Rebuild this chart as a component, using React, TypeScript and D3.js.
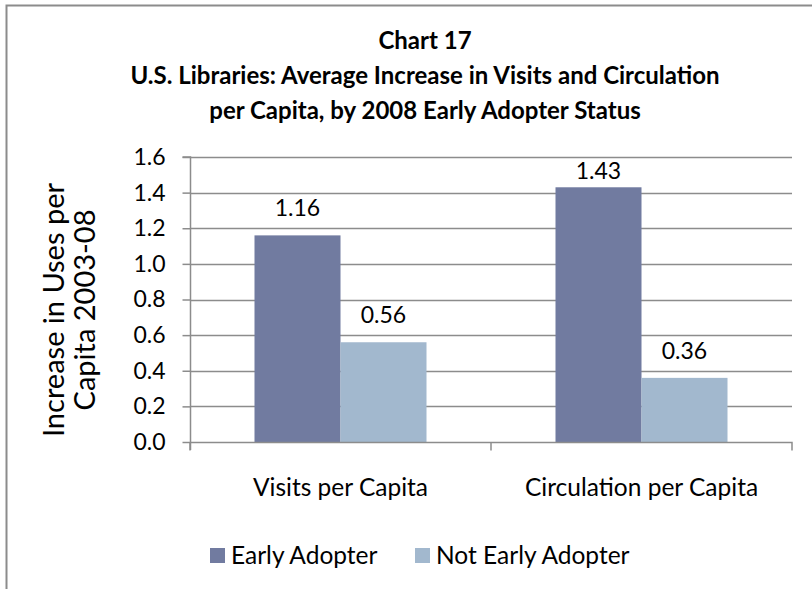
import React, { useRef, useEffect } from 'react'
import * as d3 from 'd3'

const categories = ['Visits per Capita', 'Circulation per Capita']
const seriesNames = ['Early Adopter', 'Not Early Adopter']
const earlyAdopter = [1.16, 1.43]
const notEarlyAdopter = [0.56, 0.36]
const yTicks = [0, 0.2, 0.4, 0.6, 0.8, 1.0, 1.2, 1.4, 1.6]
const titleLines = [
  'Chart 17',
  'U.S. Libraries: Average Increase in Visits and Circulation',
  'per Capita, by 2008 Early Adopter Status',
]
const yTitleLines = ['Increase in Uses per', 'Capita 2003-08']

const colors = ['#717ba0', '#a2b8ce']
const FONT = 'Lato, "Open Sans", sans-serif'

export default function App() {
  const svgRef = useRef<SVGSVGElement>(null)

  useEffect(() => {
    const w = 812
    const h = 589
    const m = { left: 190, right: 20, top: 157, bottom: 147 }
    const svg = d3.select(svgRef.current)
    svg.selectAll('*').remove()
    svg.attr('width', w).attr('height', h)

    svg.append('rect').attr('width', w).attr('height', h).attr('fill', '#fff')
    // chart border (right and bottom edges fall outside the picture)
    svg.append('path')
      .attr('d', `M6.5,${h + 5} V5.5 H${w + 5}`)
      .attr('fill', 'none')
      .attr('stroke', '#8c8c8c')
      .attr('stroke-width', 2)

    const x0 = d3.scaleBand().domain(categories).range([m.left, w - m.right]).paddingInner(0).paddingOuter(0)
    const y = d3.scaleLinear().domain([0, 1.6]).range([h - m.bottom, m.top])
    const bw = x0.bandwidth() / (2 + 1.5)
    const x1 = d3.scaleBand().domain(seriesNames).range([bw * 0.75, bw * 0.75 + bw * 2])

    // title
    svg.append('g').selectAll('text').data(titleLines).join('text')
      .attr('x', 425)
      .attr('y', (d, i) => 49 + i * 35)
      .attr('text-anchor', 'middle')
      .style('font-family', FONT)
      .style('font-weight', 'bold')
      .style('font-size', '24px')
      .text(d => d)

    // gridlines
    svg.append('g').selectAll('line').data(yTicks.slice(1)).join('line')
      .attr('x1', m.left).attr('x2', w - m.right)
      .attr('y1', d => Math.round(y(d)) + 0.5).attr('y2', d => Math.round(y(d)) + 0.5)
      .attr('stroke', '#8c8c8c').attr('stroke-width', 1.5)

    // y axis
    const yAxis = d3.axisLeft(y).tickValues(yTicks).tickFormat(d3.format('.1f')).tickSize(8).tickPadding(17)
    const gy = svg.append('g').attr('transform', `translate(${m.left + 0.5},0)`).call(yAxis)
    gy.selectAll('line,path').attr('stroke', '#8c8c8c').attr('stroke-width', 1.5)
    gy.select('.domain').attr('d', `M-8,${y(1.6)}H0V${y(0) + 8}`)
    gy.selectAll('text').style('font-family', FONT).style('font-size', '23px').attr('fill', '#000')

    // bars
    const rows = categories.map((c, i) => ({ c, vals: [earlyAdopter[i], notEarlyAdopter[i]] }))
    const groups = svg.append('g').selectAll('g').data(rows).join('g')
      .attr('transform', d => `translate(${x0(d.c)},0)`)
    groups.selectAll('rect').data(d => d.vals.map((v, j) => ({ v, s: seriesNames[j], j }))).join('rect')
      .attr('x', d => x1(d.s)!)
      .attr('width', x1.bandwidth())
      .attr('y', d => y(d.v))
      .attr('height', d => y(0) - y(d.v))
      .attr('fill', d => colors[d.j])
    // labels sit above the bar, but are kept inside the plot area
    groups.selectAll('text').data(d => d.vals.map((v, j) => ({ v, s: seriesNames[j] }))).join('text')
      .attr('x', d => x1(d.s)! + x1.bandwidth() / 2)
      .attr('y', d => Math.max(y(d.v) - 19, y(1.6) + 22))
      .attr('text-anchor', 'middle')
      .style('font-family', FONT)
      .style('font-size', '23px')
      .text(d => d3.format('.2f')(d.v))

    // x axis
    const xAxis = d3.axisBottom(x0).tickSize(0).tickPadding(36)
    const gx = svg.append('g').attr('transform', `translate(0,${y(0) + 0.5})`).call(xAxis)
    gx.select('.domain').attr('stroke', '#8c8c8c').attr('stroke-width', 1.5)
      .attr('d', `M${m.left},0H${w - m.right}V8`)
    gx.selectAll('text').style('font-family', FONT).style('font-size', '24.5px').attr('fill', '#000')
    gx.append('g').selectAll('line').data(categories).join('line')
      .attr('x1', d => x0(d)!).attr('x2', d => x0(d)!)
      .attr('y1', 0).attr('y2', 8)
      .attr('stroke', '#8c8c8c').attr('stroke-width', 1.5)

    // y title
    svg.append('text')
      .attr('transform', `translate(64,310) rotate(-90)`)
      .attr('text-anchor', 'middle')
      .style('font-family', FONT)
      .style('font-size', '29px')
      .selectAll('tspan').data(yTitleLines).join('tspan')
      .attr('x', 0)
      .attr('dy', (d, i) => (i === 0 ? 0 : 31))
      .text(d => d)

    // legend
    const legendX = [210, 415]
    const lg = svg.append('g').selectAll('g').data(seriesNames).join('g')
      .attr('transform', (d, i) => `translate(${legendX[i]},548)`)
    lg.append('rect').attr('width', 15).attr('height', 15).attr('fill', (d, i) => colors[i])
    lg.append('text').attr('x', 21).attr('y', 16)
      .style('font-family', FONT).style('font-size', '24.5px')
      .text(d => d)
  }, [])

  return (
    <svg ref={svgRef} style={{ position: 'absolute', left: 0, top: 0, display: 'block' }}></svg>
  )
}
